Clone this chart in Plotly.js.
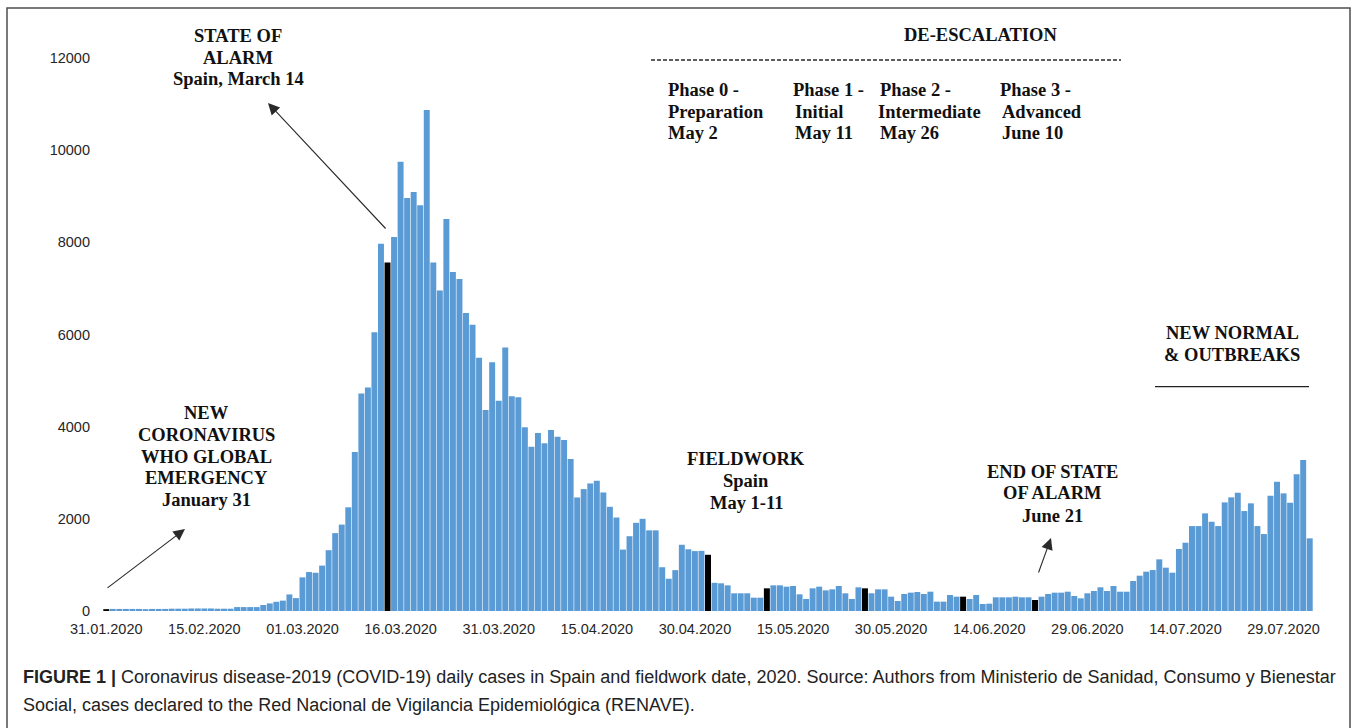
<!DOCTYPE html>
<html>
<head>
<meta charset="utf-8">
<script src="https://cdn.plot.ly/plotly-3.0.1.min.js"></script>
<style>
  html, body { margin: 0; padding: 0; background: #ffffff; }
  #chart { width: 1357px; height: 728px; }
</style>
</head>
<body>
<div id="chart"></div>
<script>
// ---- Data (daily COVID-19 cases in Spain) ----
const casesJan = [40];
const casesFeb = [45,45,45,45,45,40,45,45,45,50,50,50,55,55,55,55,50,50,50,85,85,85,85,130,165,200,225,360,280];
const casesMar = [730,845,830,985,1320,1690,1875,2250,3450,4720,4850,6050,7970,7565,8116,9746,8964,9094,8804,10870,7565,6957,8507,7355,7203,6464,6210,5493,4362,5398,4565];
const casesApr = [5717,4659,4638,3985,3565,3862,3638,3928,3783,3710,3300,2464,2645,2768,2826,2572,2261,2029,1333,1623,1913,2000,1750,1750,950,700,887,1437,1340,1300];
const casesMay = [1305,1220,611,601,557,384,384,384,289,289,492,557,557,528,543,362,260,492,528,448,470,543,384,260,514,492,384,470,470,311,217];
const casesJun = [369,398,412,369,419,203,203,347,311,311,260,347,152,159,297,297,297,311,297,297,239,311,369,398,398,419,326,275,384,434];
const casesJul = [514,434,543,419,419,651,766,853,889,1121,940,831,1345,1482,1843,1843,2119,1937,1843,2357,2466,2566,2169,2336,1843,1670,2501,2804,2553,2349,2965];
const casesAug = [3275,1577];

const monthBlocks = [
  { month: '01', firstDay: 31, values: casesJan },
  { month: '02', firstDay: 1, values: casesFeb },
  { month: '03', firstDay: 1, values: casesMar },
  { month: '04', firstDay: 1, values: casesApr },
  { month: '05', firstDay: 1, values: casesMay },
  { month: '06', firstDay: 1, values: casesJun },
  { month: '07', firstDay: 1, values: casesJul },
  { month: '08', firstDay: 1, values: casesAug }
];

// Key dates drawn in black
const highlightDates = ['31.01.2020','14.03.2020','02.05.2020','11.05.2020','26.05.2020','10.06.2020','21.06.2020'];

// X tick labels
const tickLabels = ['31.01.2020','15.02.2020','01.03.2020','16.03.2020','31.03.2020','15.04.2020','30.04.2020','15.05.2020','30.05.2020','14.06.2020','29.06.2020','14.07.2020','29.07.2020'];
const yTicks = [0,2000,4000,6000,8000,10000,12000];

// ---- Build category/value lists ----
const dates = [], values = [];
monthBlocks.forEach(b => {
  b.values.forEach((v, i) => {
    const d = String(b.firstDay + i).padStart(2, '0');
    dates.push(d + '.' + b.month + '.2020');
    values.push(v);
  });
});
const colors = dates.map(d => highlightDates.includes(d) ? '#000000' : '#5B9BD5');

// ---- Geometry helpers (pixel -> paper) ----
const W = 1357, H = 728;
const M = { l: 103, r: 44, t: 58, b: 117 };
const PL = M.l, PR = W - M.r, PT = M.t, PB = H - M.b;
const xp = px => (px - PL) / (PR - PL);
const yp = py => (PB - py) / (PB - PT);

const serif = { family: 'Liberation Serif, "Times New Roman", serif', size: 18.5, color: '#111111' };
const annotations = [];
function addText(text, px, py, anchor, font) {
  annotations.push({
    xref: 'paper', yref: 'paper', x: xp(px), y: yp(py),
    xanchor: anchor || 'center', yanchor: 'middle',
    text: text, showarrow: false, font: font || serif
  });
}
function addBlock(lines, px, pys, anchor) {
  lines.forEach((t, i) => addText('<b>' + t + '</b>', Array.isArray(px) ? px[i] : px, pys[i], anchor));
}
function addArrow(headX, headY, tailX, tailY) {
  annotations.push({
    xref: 'paper', yref: 'paper', x: xp(headX), y: yp(headY),
    ax: tailX - headX, ay: tailY - headY, axref: 'pixel', ayref: 'pixel',
    text: '', showarrow: true, arrowhead: 2, arrowsize: 2.1, arrowwidth: 1.1,
    arrowcolor: '#2a2a2a'
  });
}

// Texts
addBlock(['STATE OF', 'ALARM', 'Spain, March 14'], 238, [36, 57.7, 79.3]);
addBlock(['DE-ESCALATION'], 980, [35]);
addBlock(['Phase 0 -', 'Preparation', 'May 2'], 666, [90, 111.7, 133.3], 'left');
addBlock(['Phase 1 -', 'Initial', 'May 11'], [791, 793, 793], [90, 111.7, 133.3], 'left');
addBlock(['Phase 2 -', 'Intermediate', 'May 26'], [878, 876, 878], [90, 111.7, 133.3], 'left');
addBlock(['Phase 3 -', 'Advanced', 'June 10'], [998, 1000, 1000], [90, 111.7, 133.3], 'left');
addBlock(['NEW NORMAL', '&amp; OUTBREAKS'], 1232, [333.3, 355]);
addBlock(['NEW', 'CORONAVIRUS', 'WHO GLOBAL', 'EMERGENCY', 'January 31'], 206, [413.3, 435, 456.7, 478.3, 500]);
addBlock(['FIELDWORK', 'Spain', 'May 1-11'], 746, [459.3, 481, 502.7]);
addBlock(['END OF STATE', 'OF ALARM', 'June 21'], 1052, [471.7, 493.3, 515.5]);

// Arrows
addArrow(268, 103, 387, 230);
addArrow(185, 529, 106, 589);
addArrow(1051, 538, 1038, 574);

// Caption
const capFont = { family: '"Liberation Sans", Arial, sans-serif', size: 18, color: '#222222' };
addText('<b>FIGURE 1 |</b> Coronavirus disease-2019 (COVID-19) daily cases in Spain and fieldwork date, 2020. Source: Authors from Ministerio de Sanidad, Consumo y Bienestar', 21, 677, 'left', capFont);
addText('Social, cases declared to the Red Nacional de Vigilancia Epidemiológica (RENAVE).', 21, 705, 'left', capFont);

const shapes = [
  // outer frame
  { type: 'rect', xref: 'paper', yref: 'paper', x0: xp(7), x1: xp(1350), y0: yp(745), y1: yp(8),
    line: { color: '#4d4d4d', width: 1.5 }, fillcolor: 'rgba(0,0,0,0)', layer: 'above' },
  // de-escalation dashed line
  { type: 'line', xref: 'paper', yref: 'paper', x0: xp(651), x1: xp(1121), y0: yp(60), y1: yp(60),
    line: { color: '#2a2a2a', width: 1.6, dash: '4px,2px' } },
  // new normal underline
  { type: 'line', xref: 'paper', yref: 'paper', x0: xp(1155), x1: xp(1309), y0: yp(386.7), y1: yp(386.7),
    line: { color: '#222222', width: 1.2 } }
];

const tickFont = { family: '"Liberation Sans", Arial, sans-serif', size: 14.5, color: '#262626' };

const data = [{
  type: 'bar', x: dates, y: values,
  marker: { color: colors, line: { width: 0 } },
  hovertemplate: '%{x}: %{y}<extra></extra>'
}];

const layout = {
  width: W, height: H, margin: M,
  paper_bgcolor: '#ffffff', plot_bgcolor: '#ffffff',
  bargap: 0.09, showlegend: false,
  xaxis: {
    type: 'category', range: [-0.5, dates.length - 0.5],
    tickmode: 'array', tickvals: tickLabels, ticktext: tickLabels, tickangle: 0,
    showgrid: false, zeroline: false, showline: false, ticks: '',
    ticklabelstandoff: 7, tickfont: tickFont, fixedrange: true
  },
  yaxis: {
    range: [0, 12000], tickmode: 'array', tickvals: yTicks, tickformat: 'd',
    showgrid: false, zeroline: false, showline: false, ticks: '',
    ticklabelstandoff: 12, tickfont: tickFont, fixedrange: true
  },
  annotations: annotations,
  shapes: shapes
};

Plotly.newPlot('chart', data, layout, { displayModeBar: false, staticPlot: true });
</script>
</body>
</html>
